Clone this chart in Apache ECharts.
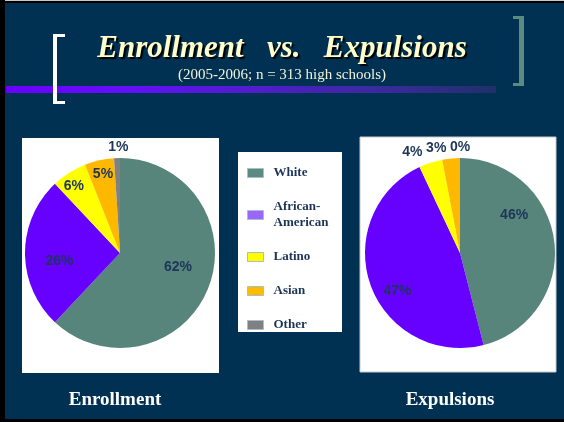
<!DOCTYPE html>
<html>
<head>
<meta charset="utf-8">
<script src="https://cdn.jsdelivr.net/npm/echarts@6/dist/echarts.min.js"></script>
<style>
  html, body { margin: 0; padding: 0; background: #003152; }
  #main { width: 564px; height: 422px; }
</style>
</head>
<body>
<div id="main"></div>
<script>
// data
const categories = ["White", "African-American", "Latino", "Asian", "Other"];
const enrollment = [62, 26, 6, 5, 1];
const expulsions = [46, 47, 4, 3, 0];

// styles
const pieColors = ["#57857b", "#6600ff", "#ffff00", "#ffb800", "#808080"];
const legendColors = ["#5a8a80", "#9966ff", "#ffff00", "#ffbb00", "#808080"];
const enrollOffsets = [[11, -4], [-10, 8], [-19, -24], [-6, -30], [0, -55]];
const expelOffsets = [[4, -32], [-15, 21], [-32, -53], [-19, -55], [0, -55]];

const serif = "'Liberation Serif', 'Times New Roman', serif";
const sans = "'Liberation Sans', Arial, sans-serif";

const chart = echarts.init(document.getElementById("main"));

function pieData(values, offsets) {
  return categories.map((name, i) => ({
    name: name,
    value: values[i],
    itemStyle: { color: pieColors[i] },
    label: { offset: offsets[i] },
  }));
}

function pieSeries(name, center, values, offsets) {
  return {
    name: name,
    type: "pie",
    center: center,
    radius: [0, 95],
    startAngle: 90,
    clockwise: true,
    minAngle: 0.01,
    z: 3,
    silent: true,
    label: {
      show: true,
      position: "inside",
      formatter: "{c}%",
      color: "#1d3658",
      fontFamily: sans,
      fontWeight: "bold",
      fontSize: 14,
    },
    labelLayout: { hideOverlap: false },
    labelLine: { show: false },
    itemStyle: { borderWidth: 0 },
    data: pieData(values, offsets),
  };
}

const option = {
  backgroundColor: "#003152",
  animation: false,
  title: {
    text: "Enrollment   vs.   Expulsions",
    subtext: "(2005-2006; n = 313 high schools)",
    left: "center",
    top: 28,
    itemGap: 4,
    textStyle: {
      fontFamily: serif,
      fontStyle: "italic",
      fontWeight: "bold",
      fontSize: 31,
      color: "#ffffcc",
      textShadowColor: "#000000",
      textShadowOffsetX: 2,
      textShadowOffsetY: 2,
      textShadowBlur: 1,
    },
    subtextStyle: {
      fontFamily: serif,
      fontSize: 15,
      color: "#f3f3d8",
    },
  },
  legend: {
    orient: "vertical",
    left: 242,
    top: 160,
    itemGap: 18,
    itemWidth: 16,
    itemHeight: 9,
    icon: "rect",
    selectedMode: false,
    formatter: (name) => (name === "African-American" ? "African-\nAmerican" : name),
    itemStyle: { borderColor: "#a9bcd0", borderWidth: 1 },
    textStyle: {
      fontFamily: serif,
      fontWeight: "bold",
      fontSize: 13,
      lineHeight: 16,
      color: "#1c3557",
      padding: [0, 0, 0, 5],
    },
    data: categories.map((name, i) => ({ name: name, itemStyle: { color: legendColors[i] } })),
  },
  graphic: {
    elements: [
      // slide frame
      { type: "rect", shape: { x: 0, y: 0, width: 564, height: 1 }, style: { fill: "#c8c8c8" } },
      { type: "rect", shape: { x: 0, y: 1, width: 564, height: 2 }, style: { fill: "#000000" } },
      { type: "rect", shape: { x: 0, y: 0, width: 5, height: 422 }, style: { fill: "#000000" } },
      { type: "rect", shape: { x: 0, y: 419, width: 564, height: 3 }, style: { fill: "#000000" } },
      // purple bar
      {
        type: "rect",
        shape: { x: 6, y: 86, width: 490, height: 7 },
        style: {
          fill: new echarts.graphic.LinearGradient(0, 0, 1, 0, [
            { offset: 0, color: "#6a00ff" },
            { offset: 0.25, color: "#6410f8" },
            { offset: 0.75, color: "#3c2aa0" },
            { offset: 1, color: "#20306a" },
          ]),
        },
      },
      // left bracket
      { type: "rect", shape: { x: 53, y: 34, width: 4, height: 70 }, style: { fill: "#ffffff" } },
      { type: "rect", shape: { x: 53, y: 34, width: 12, height: 3 }, style: { fill: "#ffffff" } },
      { type: "rect", shape: { x: 53, y: 101, width: 12, height: 3 }, style: { fill: "#ffffff" } },
      // right bracket
      { type: "rect", shape: { x: 519, y: 16, width: 5, height: 70 }, style: { fill: "#5a8a80" } },
      { type: "rect", shape: { x: 513, y: 16, width: 11, height: 3 }, style: { fill: "#5a8a80" } },
      { type: "rect", shape: { x: 513, y: 83, width: 11, height: 3 }, style: { fill: "#5a8a80" } },
      // white panels
      { type: "rect", shape: { x: 22, y: 138, width: 197, height: 235 }, style: { fill: "#ffffff" } },
      { type: "rect", shape: { x: 360, y: 137, width: 196, height: 235 }, style: { fill: "#ffffff", stroke: "#c8c8c8", lineWidth: 1 } },
      { type: "rect", shape: { x: 238, y: 152, width: 104, height: 180 }, style: { fill: "#ffffff" } },
      // captions
      {
        type: "text", x: 115, y: 400,
        style: { text: "Enrollment", fill: "#ffffff", font: "bold 19px " + serif, align: "center", verticalAlign: "middle" },
      },
      {
        type: "text", x: 450, y: 400,
        style: { text: "Expulsions", fill: "#ffffff", font: "bold 19px " + serif, align: "center", verticalAlign: "middle" },
      },
    ],
  },
  series: [
    pieSeries("Enrollment", [120, 253], enrollment, enrollOffsets),
    pieSeries("Expulsions", [460, 253], expulsions, expelOffsets),
  ],
};

chart.setOption(option);
</script>
</body>
</html>
